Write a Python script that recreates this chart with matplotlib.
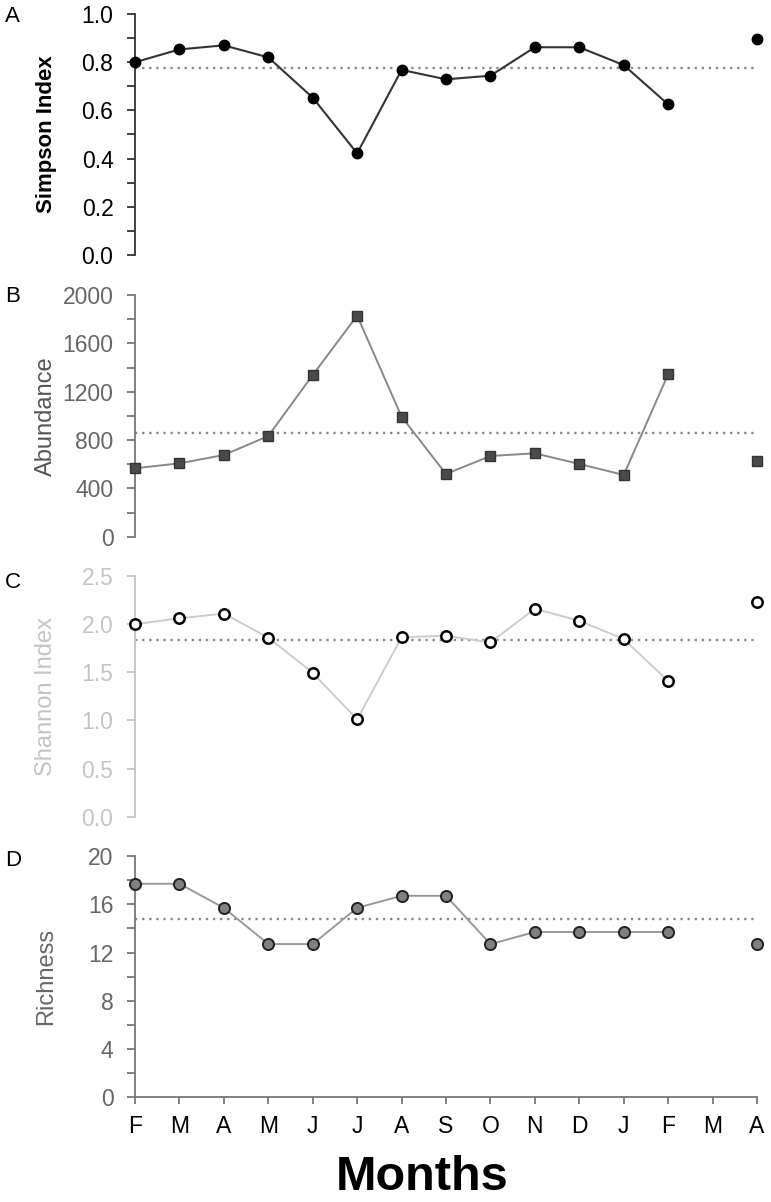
import numpy as np
import matplotlib
matplotlib.use("Agg")
import matplotlib.pyplot as plt
from matplotlib.ticker import MultipleLocator

plt.rcParams['font.family'] = ['Liberation Sans', 'DejaVu Sans']

months = ['F', 'M', 'A', 'M', 'J', 'J', 'A', 'S', 'O', 'N', 'D', 'J', 'F', 'M', 'A']
# month index of each sample (no sample for the second March)
idx = [0, 1, 2, 3, 4, 5, 6, 7, 8, 9, 10, 11, 12, 14]

simpson = [0.80, 0.853, 0.87, 0.82, 0.653, 0.422, 0.768, 0.729, 0.744, 0.862, 0.862, 0.788, 0.625, 0.895]
simpson_mean = 0.777
abundance = [566, 607, 676, 833, 1338, 1829, 993, 519, 668, 690, 602, 511, 1344, 626]
abundance_mean = 861
shannon = [2.0, 2.06, 2.11, 1.86, 1.495, 1.01, 1.863, 1.88, 1.81, 2.16, 2.035, 1.845, 1.41, 2.23]
shannon_mean = 1.835
richness = [17.7, 17.7, 15.7, 12.7, 12.7, 15.7, 16.7, 16.7, 12.7, 13.7, 13.7, 13.7, 13.7, 12.7]
richness_mean = 14.75

W, H = 771, 1202
fig = plt.figure(figsize=(W / 100, H / 100), dpi=100)

def make_ax(top, bottom):
    return fig.add_axes([135 / W, 1 - bottom / H, 622 / W, (bottom - top) / H])

panels = [
    dict(letter='A', top=14, bottom=255, ly=17, y=simpson, mean=simpson_mean, ylim=(0, 1.0), major=0.2, minor=0.1,
         label='Simpson Index', lc='black', tc='black', bold=True, ac='#333333', fmt='{:.1f}'),
    dict(letter='B', top=295, bottom=536.7, ly=297, y=abundance, mean=abundance_mean, ylim=(0, 2000), major=400, minor=200,
         label='Abundance', lc='#555555', tc='#666666', bold=False, ac='#777777', fmt='{:.0f}'),
    dict(letter='C', top=576, bottom=816.7, ly=583, y=shannon, mean=shannon_mean, ylim=(0, 2.5), major=0.5, minor=None,
         label='Shannon Index', lc='#c4c4c4', tc='#c4c4c4', bold=False, ac='#c4c4c4', fmt='{:.1f}'),
    dict(letter='D', top=856, bottom=1097.3, ly=861, y=richness, mean=richness_mean, ylim=(0, 20), major=4, minor=2,
         label='Richness', lc='#666666', tc='#666666', bold=False, ac='#777777', fmt='{:.0f}'),
]

axes = []
for p in panels:
    ax = make_ax(p['top'], p['bottom'])
    axes.append(ax)
    ax.set_xlim(0, 14)
    ax.set_ylim(*p['ylim'])
    for s in ['top', 'right', 'bottom']:
        ax.spines[s].set_visible(False)
    ax.spines['left'].set_color(p['ac'])
    ax.spines['left'].set_linewidth(1.3)
    if p['minor']:
        ax.yaxis.set_minor_locator(MultipleLocator(p['minor']))
    ticks = np.arange(p['ylim'][0], p['ylim'][1] + p['major'] / 2, p['major'])
    ax.set_yticks(ticks)
    ax.set_yticklabels([p['fmt'].format(t) for t in ticks])
    ax.tick_params(axis='y', which='major', length=5.5, width=1.3, color=p['ac'],
                   labelcolor=p['tc'], labelsize=16.5, pad=10)
    ax.tick_params(axis='y', which='minor', length=5.5, width=1.3, color=p['ac'])
    ax.set_ylabel(p['label'], fontsize=17 if not p['bold'] else 16, color=p['lc'],
                  fontweight='bold' if p['bold'] else 'normal')
    ax.yaxis.set_label_coords(-(135 - 57) / 622, 0.5)
    ax.set_xticks([])
    ax.axhline(p['mean'], xmin=0, xmax=1, color='#8a8a8a', lw=1.7, ls=(0, (1, 2)), zorder=1)
    fig.text(5 / W, 1 - p['ly'] / H, p['letter'], fontsize=16, va='center', ha='left')

sel = idx[:13]
last = idx[13]

# A
ax = axes[0]
ax.plot(sel, simpson[:13], color='#333333', lw=1.5, marker='o', ms=7.5, mfc='black', mec='black', clip_on=False, zorder=3)
ax.plot([last], [simpson[13]], ls='none', marker='o', ms=7.5, mfc='black', mec='black', clip_on=False, zorder=3)
# B
ax = axes[1]
ax.plot(sel, abundance[:13], color='#888888', lw=1.4, marker='s', ms=7, mfc='#4a4a4a', mec='#333333', clip_on=False, zorder=3)
ax.plot([last], [abundance[13]], ls='none', marker='s', ms=7, mfc='#4a4a4a', mec='#333333', clip_on=False, zorder=3)
# C
ax = axes[2]
ax.plot(sel, shannon[:13], color='#cccccc', lw=1.4, marker='o', ms=7.5, mfc='white', mec='black', mew=1.8, clip_on=False, zorder=3)
ax.plot([last], [shannon[13]], ls='none', marker='o', ms=7.5, mfc='white', mec='black', mew=1.8, clip_on=False, zorder=3)
# D
ax = axes[3]
ax.plot(sel, richness[:13], color='#999999', lw=1.4, marker='o', ms=8, mfc='#808080', mec='#222222', mew=1.4, clip_on=False, zorder=3)
ax.plot([last], [richness[13]], ls='none', marker='o', ms=8, mfc='#808080', mec='#222222', mew=1.4, clip_on=False, zorder=3)
ax.spines['bottom'].set_visible(True)
ax.spines['bottom'].set_color('#777777')
ax.spines['bottom'].set_linewidth(1.3)
ax.set_xticks(range(len(months)))
ax.set_xticklabels(months)
ax.tick_params(axis='x', length=5, width=1.3, color='#777777', labelsize=16.5, labelcolor='black', pad=8)

fig.text(422 / W, 1 - 1178 / H, 'Months', fontsize=35, fontweight='bold', ha='center', va='center')

fig.savefig('out.png', dpi=100)
